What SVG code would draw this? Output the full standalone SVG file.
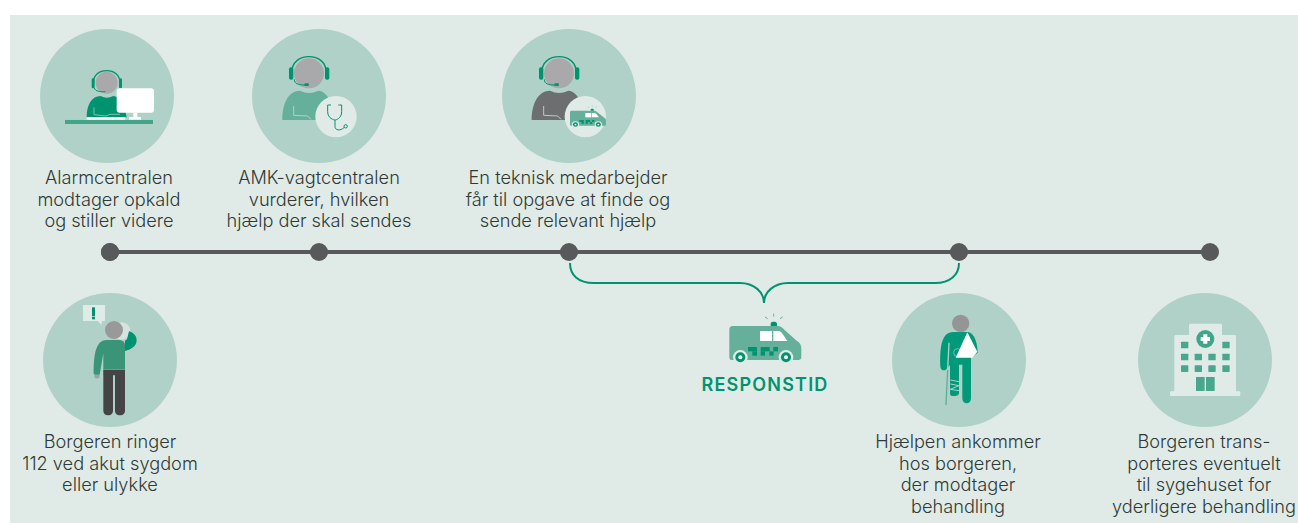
<svg xmlns="http://www.w3.org/2000/svg" width="1298" height="523" viewBox="0 0 1298 523">
<style>
.disc{fill:#b0d1c7}
.dot{fill:#58595b}
.lab{font-family:"Inter","Liberation Sans",sans-serif;font-size:18.200px;font-weight:300;fill:#2f3a37;text-anchor:middle}
.head{fill:#a9a9ab}
.hs{fill:none;stroke:#00936f;stroke-width:4}
.pad{fill:#00936f}
.pale{fill:#e0ebe7}
.g{fill:#00936f}
.tl{stroke:#58595b;stroke-width:4;fill:none}
.br{stroke:#00936f;stroke-width:2;fill:none}
</style>
<defs>
<g id="agent">
<circle class="head" cx="192" cy="160" r="45"/>
<path class="hs" d="M140 160C140 125 165 110 192 110S244 125 244 160"/>
<rect class="pad" x="132" y="142" width="13" height="37" rx="6"/>
<rect class="pad" x="240" y="142" width="13" height="37" rx="6"/>
<path d="M148 178C148 192 160 195 182 195" fill="none" stroke="#00936f" stroke-width="3"/>
<rect class="pad" x="178" y="190" width="14" height="8" rx="4"/>
</g>
<g id="van">
<path d="M128 78H260C272 78 276 82 284 90L320 122C330 128 334 134 334 145V172C334 178 330 180 326 180H124C120 180 118 176 118 172V88C118 82 122 78 128 78Z" fill="#66b09b"/>
<path d="M210 93H246V123H210Z" fill="#fff"/>
<path d="M250 93H266C272 93 276 98 292 123H250Z" fill="#fff"/>
<g fill="#00936f">
<rect x="174" y="141" width="27" height="13"/><rect x="212" y="141" width="14" height="13"/><rect x="225" y="141" width="14" height="13"/><rect x="250" y="141" width="14" height="13"/>
<rect x="187" y="154" width="14" height="13"/><rect x="212" y="154" width="13" height="13"/><rect x="238" y="154" width="13" height="13"/>
</g>
<circle cx="151" cy="172" r="22" fill="#e0ebe7"/><circle cx="151" cy="172" r="15" fill="#00936f"/><circle cx="151" cy="172" r="6" fill="#fff"/>
<circle cx="288" cy="172" r="22" fill="#e0ebe7"/><circle cx="288" cy="172" r="15" fill="#00936f"/><circle cx="288" cy="172" r="6" fill="#fff"/>
<path d="M242 78V72C242 66 246 65 251 65S261 66 261 72V78Z" fill="#00936f"/>
<path d="M251 41V50M225 51L233 56M278 51L270 56" stroke="#66b09b" stroke-width="3" fill="none"/>
</g>
</defs>
<rect x="10" y="15" width="1288" height="508" fill="#e0ebe7"/>
<g id="connectors">
<path class="tl" d="M110 252H1210"/>
<path class="br" d="M570 263C570 275 578 283 594 283H740C754 283 764 292 764 303C764 292 774 283 788 283H935C950 283 959 275 959 263"/>
</g>
<g id="node-borger">
<circle class="dot" cx="110" cy="252" r="9"/>
<circle class="disc" cx="110" cy="360" r="67"/>
<g transform="translate(35 290) scale(.3333)">
<path d="M144 45H210V93H200V105L188 93H144Z" fill="#e0ebe7"/>
<rect class="g" x="171" y="52" width="9" height="26"/><rect class="g" x="171" y="80" width="9" height="8"/>
<circle cx="260" cy="123" r="26" fill="#d5e4df"/>
<path d="M270 183C290 178 305 168 305 150C305 138 295 128 282 124L276 148L270 152Z" fill="#00936f"/>
<rect x="205" y="235" width="65" height="20" fill="#8a9a94"/>
<path d="M205 240H270V362C270 370 264 376 255 376S240 370 240 362V256H234V362C234 370 228 376 219 376S205 370 205 362Z" fill="#444"/>
<path d="M178 255H194L193 263C190 266 182 266 179 263Z" fill="#a0a0a0"/>
<path d="M176 252C176 200 180 150 215 150H250C262 150 270 155 270 165V238H205V190L194 254H180Z" fill="#3a9478"/>
<circle cx="237" cy="120" r="27" fill="#999"/>
</g>
<text class="lab"><tspan x="110" y="448">Borgeren ringer</tspan><tspan x="110" y="469.500">112 ved akut sygdom</tspan><tspan x="110" y="491">eller ulykke</tspan></text>
</g>
<g id="node-alarm">
<circle class="dot" cx="110" cy="252" r="9"/>
<circle class="disc" cx="107" cy="96" r="67"/>
<g transform="translate(30 20) scale(.3333)">
<path d="M170 292C170 255 185 228 212 228Q230 238 250 228C275 230 285 260 290 292Z" fill="#00936f"/>
<path d="M192 262V284L228 288L240 283H270" fill="none" stroke="#7fbfae" stroke-width="3"/>
<circle class="head" cx="230" cy="188" r="33"/>
<path class="hs" d="M190 188C190 165 208 152 230 152S270 165 270 188"/>
<rect class="pad" x="185" y="175" width="9" height="30" rx="4"/><rect class="pad" x="267" y="175" width="9" height="30" rx="4"/>
<path d="M193 204C196 214 210 216 226 215" fill="none" stroke="#00936f" stroke-width="3"/>
<rect x="260" y="205" width="112" height="73" rx="9" fill="#fff"/>
<rect x="310" y="278" width="12" height="14" fill="#fff"/><rect x="297" y="291" width="36" height="8" fill="#fff"/>
<rect x="170" y="292" width="116" height="7" fill="#fff"/>
<rect x="105" y="300" width="264" height="12" fill="#3fa68a"/>
</g>
<text class="lab"><tspan x="109" y="184">Alarmcentralen</tspan><tspan x="109" y="205.500">modtager opkald</tspan><tspan x="109" y="227">og stiller videre</tspan></text>
</g>
<g id="node-amk">
<circle class="dot" cx="319" cy="252" r="9"/>
<circle class="disc" cx="319" cy="96" r="67"/>
<g transform="translate(245 20) scale(.3333)">
<path d="M112 300C112 250 130 212 165 212Q192 226 220 212C250 215 262 250 265 300Z" fill="#66b09b"/>
<path d="M146 258V286L188 288L198 298" fill="none" stroke="#b0d1c7" stroke-width="3"/>
<use href="#agent"/>
<circle class="pale" cx="273" cy="290" r="62"/>
<path d="M258 255H248V275C248 296 268 300 270 300C272 300 290 296 290 275V255H280M270 300V320C270 330 285 335 298 322" fill="none" stroke="#00936f" stroke-width="3"/>
<circle cx="302" cy="319" r="5" fill="none" stroke="#00936f" stroke-width="3"/>
</g>
<text class="lab"><tspan x="319" y="184">AMK-vagtcentralen</tspan><tspan x="319" y="205.500">vurderer, hvilken</tspan><tspan x="319" y="227">hjælp der skal sendes</tspan></text>
</g>
<g id="node-tekniker">
<circle class="dot" cx="569" cy="252" r="9"/>
<circle class="disc" cx="569" cy="96" r="67"/>
<g transform="translate(495 20) scale(.3333)">
<path d="M110 300C110 250 130 212 165 212Q192 226 220 212C250 215 262 250 265 300Z" fill="#6d6e70"/>
<path d="M146 258V286L188 288L198 298" fill="none" stroke="#b0d1c7" stroke-width="3"/>
<use href="#agent"/>
<circle class="pale" cx="271" cy="290" r="62"/>
<use href="#van" transform="translate(166 238) scale(.5 .44)"/>
</g>
<text class="lab"><tspan x="568" y="184">En teknisk medarbejder</tspan><tspan x="568" y="205.500">får til opgave at finde og</tspan><tspan x="568" y="227">sende relevant hjælp</tspan></text>
</g>
<g id="node-responstid">
<g transform="translate(690 300) scale(.3333)"><use href="#van"/></g>
<text x="765" y="391" font-family="Inter,'Liberation Sans',sans-serif" font-weight="600" font-size="18" letter-spacing="1.200" fill="#00936f" text-anchor="middle">RESPONSTID</text>
</g>
<g id="node-hjaelp">
<circle class="dot" cx="959" cy="252" r="9"/>
<circle class="disc" cx="959" cy="360" r="67"/>
<g transform="translate(885 290) scale(.3333)">
<path d="M166 230C164 170 170 126 205 126H250C270 130 278 165 278 188L262 200H258V325C258 335 252 340 245 340S232 335 232 325V224H222V308C222 316 214 318 206 318S195 316 195 308V225L182 240C174 243 168 240 166 230Z" fill="#00997a"/>
<path d="M196 270L222 275M196 282L222 287L196 298L222 302" fill="none" stroke="#b0d1c7" stroke-width="3"/>
<path d="M192 158L188 240" stroke="#b0d1c7" stroke-width="4" fill="none"/>
<path d="M188 240L183 345" stroke="#5fae98" stroke-width="4" fill="none"/>
<circle cx="218" cy="188" r="12" fill="none" stroke="#b0d1c7" stroke-width="2"/>
<path d="M247 127L277 185L262 203H212Z" fill="#fff"/>
<circle cx="227" cy="100" r="26" fill="#959595"/>
</g>
<text class="lab"><tspan x="958" y="448">Hjælpen ankommer</tspan><tspan x="958" y="470">hos borgeren,</tspan><tspan x="958" y="491">der modtager</tspan><tspan x="958" y="513">behandling</tspan></text>
</g>
<g id="node-sygehus">
<circle class="dot" cx="1210" cy="252" r="9"/>
<circle class="disc" cx="1205" cy="360" r="67"/>
<g transform="translate(1130 290) scale(.3333)">
<path d="M177 135V106C177 103 179 101 182 101H272C275 101 276 103 276 106V135H314C316 135 318 137 318 139V304H327C330 304 331 306 331 308V314C331 316 330 318 327 318H124C121 318 120 316 120 314V308C120 306 121 304 124 304H133V139C133 137 135 135 137 135Z" fill="#e0ebe7"/>
<circle cx="226" cy="147" r="27" fill="#3fa68a"/>
<path d="M220 133H232V141H240V153H232V161H220V153H212V141H220Z" fill="#fff"/>
<g fill="#48a78d">
<rect x="153" y="155" width="22" height="20" rx="2"/><rect x="277" y="155" width="22" height="20" rx="2"/>
<rect x="153" y="191" width="22" height="20" rx="2"/><rect x="194" y="191" width="22" height="20" rx="2"/><rect x="235" y="191" width="22" height="20" rx="2"/><rect x="277" y="191" width="22" height="20" rx="2"/>
<rect x="153" y="226" width="22" height="20" rx="2"/><rect x="194" y="226" width="22" height="20" rx="2"/><rect x="235" y="226" width="22" height="20" rx="2"/><rect x="277" y="226" width="22" height="20" rx="2"/>
<rect x="198" y="261" width="26" height="42"/><rect x="228" y="261" width="26" height="42"/>
</g>
</g>
<text class="lab"><tspan x="1204" y="448">Borgeren trans-</tspan><tspan x="1204" y="470">porteres eventuelt</tspan><tspan x="1204" y="491">til sygehuset for</tspan><tspan x="1204" y="513">yderligere behandling</tspan></text>
</g>
</svg>
